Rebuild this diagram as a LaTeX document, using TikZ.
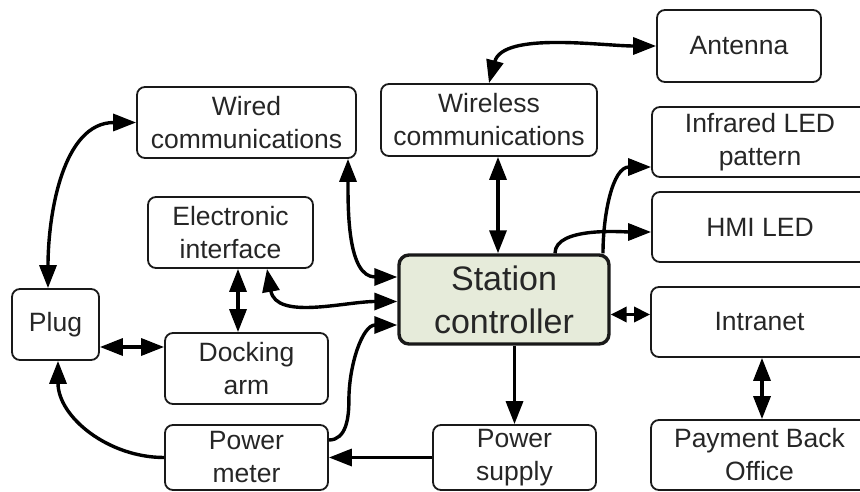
\documentclass[tikz,border=0pt]{standalone}
\usepackage{fontspec}
\setmainfont{Liberation Sans}
\usetikzlibrary{arrows.meta}
\definecolor{scfill}{HTML}{E6EBDA}
\begin{document}
\begin{tikzpicture}[x=1pt,y=1pt,
  box/.style={draw=black!90, line width=1.8pt, rounded corners=8pt, inner sep=0pt,
    align=center, font=\fontsize{26.5}{33}\selectfont, text=black!85},
  sz/.style 2 args={minimum width=#1pt, minimum height=#2pt},
  arr/.style={line width=3.4pt, -{Triangle[length=23pt,width=17pt]}},
  dbl/.style={line width=3.4pt, {Triangle[length=23pt,width=17pt]}-{Triangle[length=23pt,width=17pt]}},
  sdbl/.style={line width=3.4pt, {Triangle[length=16pt,width=15pt]}-{Triangle[length=16pt,width=15pt]}},
]
\useasboundingbox (0,0) rectangle (860,491);
\clip (0,0) rectangle (860,491);

% nodes
\node[box, sz={164}{72}] (ant) at (739,445) {Antenna};
\node[box, sz={216}{72}] (wls) at (489,371) {Wireless\\communications};
\node[box, sz={216}{70}] (ir) at (760,349) {Infrared LED\\pattern};
\node[box, sz={216}{70}] (hmi) at (760,264) {HMI LED};
\node[box, sz={219}{71}] (wired) at (246.5,368.5) {Wired\\communications};
\node[box, sz={165}{71}] (ei) at (230.5,258.5) {Electronic\\interface};
\node[box, sz={87}{71}] (plug) at (55.5,166.5) {Plug};
\node[box, sz={163}{71}] (dock) at (246.5,122.5) {Docking\\arm};
\node[box, sz={163}{65}] (pm) at (246.5,33.5) {Power\\meter};
\node[box, sz={210}{89}, fill=scfill, line width=3.4pt, rounded corners=10pt,
  font=\fontsize{34}{43}\selectfont] (sc) at (504,191.5) {Station\\controller};
\node[box, sz={217}{70}] (intr) at (759.5,169) {Intranet};
\node[box, sz={163}{65}] (ps) at (514.5,33.5) {Power\\supply};
\node[box, sz={217}{70}] (pbo) at (759.5,36) {Payment Back\\Office};

% connectors
\draw[dbl] (wls.north) to[out=75,in=180,looseness=0.8] (ant.west);
\draw[dbl] ([xshift=9pt]wls.south) -- ([xshift=9pt]wls.south |- sc.north);
\draw[arr] ([xshift=99pt]sc.north) to[out=90,in=180] ([yshift=-25pt]ir.west);
\draw[arr] ([xshift=51pt]sc.north) to[out=90,in=180,looseness=0.7] ([yshift=-5pt]hmi.west);
\draw[sdbl] ([yshift=-15pt]sc.east) -- ([yshift=-15pt]sc.east -| intr.west);
\draw[dbl] ([xshift=2.5pt]intr.south) -- ([xshift=2.5pt]pbo.north);
\draw[arr] (sc.south -| ps.north) -- (ps.north);
\draw[arr] (ps.west) -- (pm.east);
\draw[arr] (pm.west) to[out=180,in=-90] ([xshift=2.5pt]plug.south);
\draw[arr] ([yshift=17.5pt]pm.east) to[out=0,in=-90] ++(20pt,40pt)
  to[out=90,in=180] ([yshift=-25.5pt]sc.west);
\draw[dbl] ([yshift=-22.5pt]plug.east) -- ([yshift=-22.5pt]plug.east -| dock.west);
\draw[dbl] ([xshift=7.5pt]ei.south) -- ([xshift=7.5pt]ei.south |- dock.north);
\draw[dbl] ([xshift=36.5pt]ei.south) to[out=-80,in=180] ([yshift=-2pt]sc.west);
\draw[dbl] ([xshift=101.5pt]wired.south) to[out=-90,in=180] ([yshift=22.5pt]sc.west);
\draw[dbl] ([xshift=-7.5pt]plug.north) to[out=90,in=180] (wired.west);
\end{tikzpicture}
\end{document}
